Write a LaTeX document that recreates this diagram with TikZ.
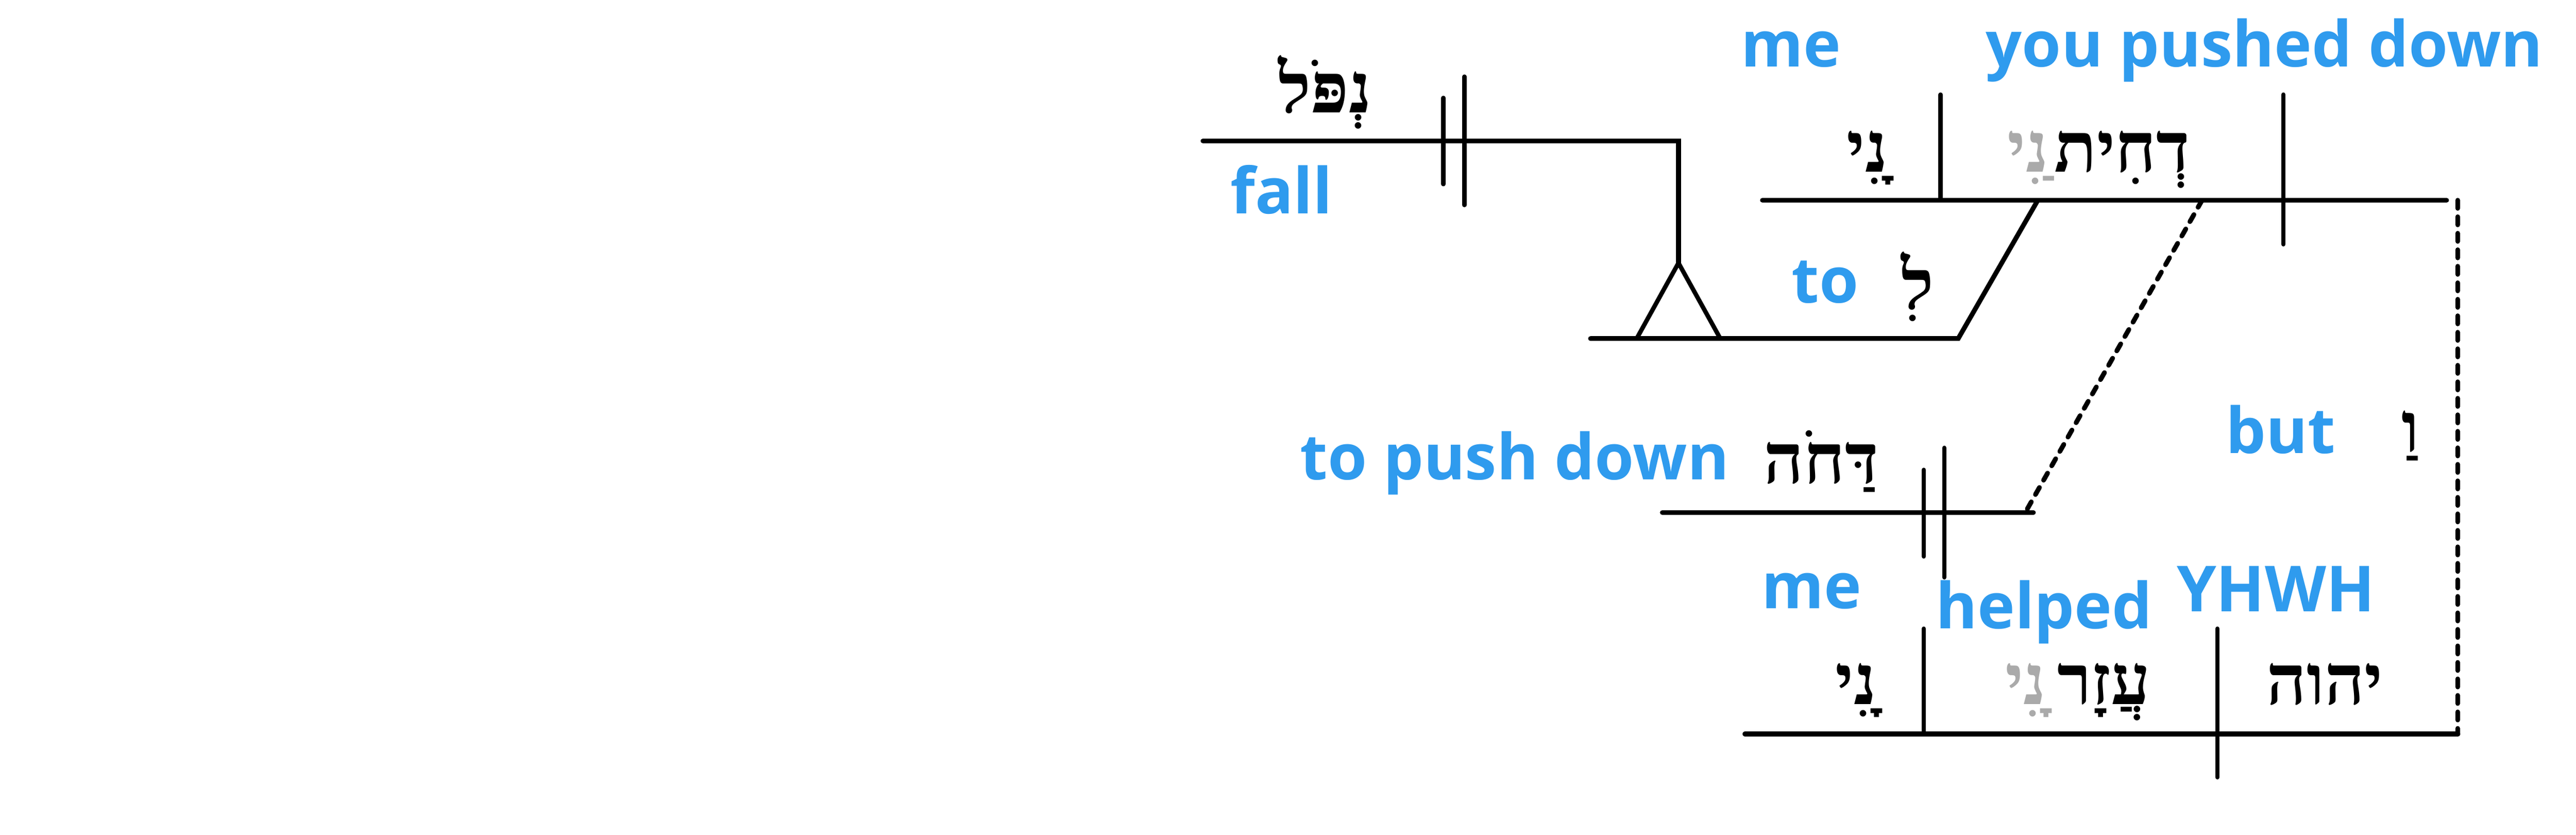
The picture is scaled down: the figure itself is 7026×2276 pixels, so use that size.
\documentclass[tikz,border=0pt]{standalone}
\usepackage{fontspec}
\IfFontExistsTF{Noto Sans Bold}{\newfontfamily\enfont{Noto Sans Bold}}{%
  \IfFontExistsTF{Open Sans Bold}{\newfontfamily\enfont{Open Sans Bold}}{%
    \newfontfamily\enfont{Liberation Sans Bold}}}
\newfontfamily\hebfont[Script=Hebrew]{Liberation Serif}
\definecolor{lblue}{RGB}{47,155,238}
\definecolor{sgray}{RGB}{170,170,170}
\tikzset{
  ln/.style={line width=1.3pt, line cap=round},
  dv/.style={line width=1.2pt, line cap=round},
  dsh/.style={line width=1.3pt, line cap=round, dash pattern=on 2.2pt off 2.3pt},
  en/.style={font=\fontsize{17.3}{20}\selectfont\enfont, text=lblue, inner sep=0pt, anchor=base},
  he/.style={font=\fontsize{19}{21}\selectfont\hebfont\bfseries, inner sep=0pt, anchor=base},
  hesfx/.style={he, text=sgray},
}
\begin{document}
\begin{tikzpicture}[x=0.1pt,y=-0.1pt]
\useasboundingbox[fill=white] (0,0) rectangle (7026,2276);
% coordinates
\coordinate (a1) at (3281,384);
\coordinate (a2) at (4578,384);
\coordinate (apex) at (4578,717);
\coordinate (tl) at (4464,923);
\coordinate (tr) at (4692,923);
\coordinate (b1) at (4338,923);
\coordinate (b2) at (5341,923);
\coordinate (b3) at (5558,546);
\coordinate (c1) at (4807,546);
\coordinate (c2) at (6673,546);
\coordinate (d1t) at (5293,258);
\coordinate (d1b) at (5293,546);
\coordinate (d2t) at (6228,258);
\coordinate (d2b) at (6228,666);
\coordinate (p1t) at (3937,267);
\coordinate (p1b) at (3937,502);
\coordinate (p2t) at (3994,209);
\coordinate (p2b) at (3994,559);
\coordinate (e1) at (4534,1397);
\coordinate (e2) at (5546,1397);
\coordinate (q1t) at (5247,1281);
\coordinate (q1b) at (5247,1517);
\coordinate (q2t) at (5303,1221);
\coordinate (q2b) at (5303,1574);
\coordinate (f1) at (6006,546);
\coordinate (f2) at (5524,1397);
\coordinate (g1) at (6703,546);
\coordinate (g2) at (6703,2001);
\coordinate (h1) at (4759,2001);
\coordinate (h2) at (6704,2001);
\coordinate (k1t) at (5247,1714);
\coordinate (k1b) at (5247,2001);
\coordinate (k2t) at (6048,1714);
\coordinate (k2b) at (6048,2119);
% lines
\draw[ln] (a1) -- (a2) -- (apex);
\draw[dv] (tl) -- (apex) -- (tr);
\draw[ln] (b1) -- (b2) -- (b3);
\draw[dv] (p1t) -- (p1b);
\draw[dv] (p2t) -- (p2b);
\draw[ln] (c1) -- (c2);
\draw[dv] (d1t) -- (d1b);
\draw[dv] (d2t) -- (d2b);
\draw[ln] (e1) -- (e2);
\draw[dv] (q1t) -- (q1b);
\draw[dv] (q2t) -- (q2b);
\draw[dsh] (f1) -- (f2);
\draw[dsh] (g1) -- (g2);
\draw[ln] (h1) -- (h2);
\draw[dv] (k1t) -- (k1b);
\draw[dv] (k2t) -- (k2b);
% texts
\node[he] (nfl) at (3614,307) {נְפֹּל};
\node[en] (fall) at (3495,582) {fall};
\node[en] (me1) at (4885,182) {me};
\node[en] (ypd) at (6176,182) {you pushed down};
\node[he] (ni1) at (5093,469) {ָנִי};
\node[he, anchor=base east] (dht) at (5975,469) {דְחִית};
\node[hesfx, anchor=base west] (dhtsfx) at (5474,469) {ַנִי};
\node[en] (to) at (4978,826) {to};
\node[he] (li) at (5230,843) {לִ};
\node[en] (tpd) at (4131,1308) {to push down};
\node[he] (dhh) at (4967,1317) {דַּחֹה};
\node[en] (but) at (6220,1236) {but};
\node[he] (wa) at (6575,1232) {וַ};
\node[en] (me2) at (4941,1659) {me};
\node[en] (hlp) at (5575,1714) {helped};
\node[en] (yhwh) at (6207,1667) {YHWH};
\node[he] (ni2) at (5062,1920) {ָנִי};
\node[he, anchor=base east] (azr) at (5867,1920) {עֲזָר};
\node[hesfx, anchor=base west] (azrsfx) at (5467,1920) {ָנִי};
\node[he] (yhvh) at (6341,1920) {יהוה};
\end{tikzpicture}
\end{document}
